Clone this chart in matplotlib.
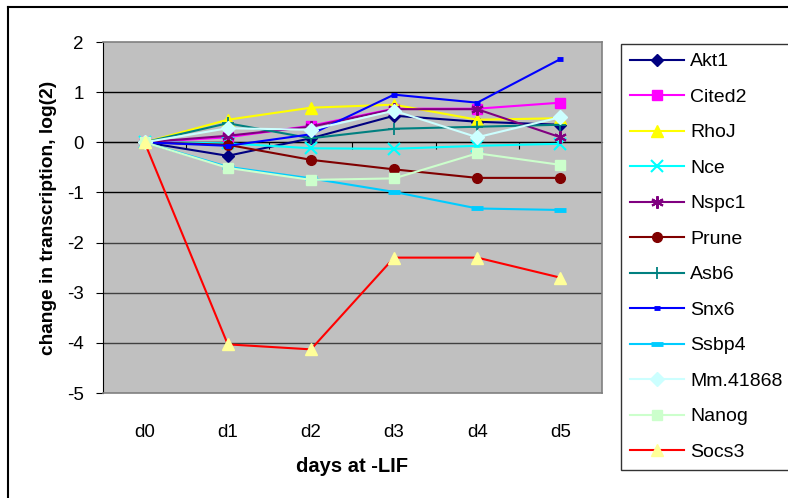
import numpy as np
import matplotlib
matplotlib.use("Agg")
import matplotlib.pyplot as plt
from matplotlib.lines import Line2D

plt.rcParams["font.family"] = ["Liberation Sans", "DejaVu Sans"]

days = ["d0", "d1", "d2", "d3", "d4", "d5"]

akt1 = [0, -0.27, 0.08, 0.53, 0.41, 0.35]
cited2 = [0, 0.10, 0.33, 0.67, 0.67, 0.79]
rhoj = [0, 0.45, 0.69, 0.75, 0.45, 0.48]
nce = [0, -0.02, -0.12, -0.13, -0.07, -0.03]
nspc1 = [0, 0.13, 0.31, 0.66, 0.66, 0.10]
prune = [0, -0.05, -0.35, -0.54, -0.71, -0.71]
asb6 = [0, 0.38, 0.08, 0.27, 0.31, 0.35]
snx6 = [0, -0.07, 0.16, 0.95, 0.79, 1.66]
ssbp4 = [0, -0.49, -0.72, -0.99, -1.32, -1.35]
mm41868 = [0, 0.28, 0.25, 0.63, 0.10, 0.50]
nanog = [0, -0.51, -0.75, -0.72, -0.22, -0.45]
socs3 = [0, -4.03, -4.13, -2.30, -2.30, -2.70]

# name, values, line colour, marker, marker colour, marker size, edge width
series = [
    ("Akt1", akt1, "#000080", "D", "#000080", 6, 1),
    ("Cited2", cited2, "#FF00FF", "s", "#FF00FF", 7, 1),
    ("RhoJ", rhoj, "#FFFF00", "^", "#FFFF00", 8, 1),
    ("Nce", nce, "#00FFFF", "x", "#00FFFF", 8, 1.5),
    ("Nspc1", nspc1, "#800080", (6, 2, 0), "#800080", 9, 1.5),
    ("Prune", prune, "#800000", "o", "#800000", 7, 1),
    ("Asb6", asb6, "#008080", "+", "#008080", 9, 1.3),
    ("Snx6", snx6, "#0000FF", "_", "#0000FF", 5, 3.5),
    ("Ssbp4", ssbp4, "#00CCFF", "_", "#00CCFF", 8, 3.5),
    ("Mm.41868", mm41868, "#CCFFFF", "D", "#CCFFFF", 7, 1),
    ("Nanog", nanog, "#CCFFCC", "s", "#CCFFCC", 7, 1),
    ("Socs3", socs3, "#FF0000", "^", "#FFFF99", 8, 1),
]

fig = plt.figure(figsize=(7.88, 4.98), dpi=100)
ax = fig.add_axes([103 / 788, 1 - 393 / 498, (602 - 103) / 788, (393 - 42) / 498])
ax.set_facecolor("#C0C0C0")

x = np.arange(len(days))
handles = []
for name, vals, lc, mk, mc, ms, mew in series:
    ax.plot(x, vals, color=lc, lw=1.5, marker=mk, ms=ms, mfc=mc, mec=mc, mew=mew, zorder=3)
    handles.append(Line2D([], [], color=lc, lw=1.5, marker=mk, ms=ms, mfc=mc, mec=mc, mew=mew, label=name))

ax.set_xlim(-0.5, 5.5)
ax.set_ylim(-5, 2)
ax.set_yticks(range(-5, 3))
ax.set_yticklabels([str(v) for v in range(-5, 3)], fontsize=13.5)
for v in range(-4, 2):
    ax.axhline(v, color="#000000" if v >= -1 else "#404040", lw=1, zorder=1)

ax.set_xticks(x)
ax.set_xticklabels(days, fontsize=13.5)
ax.tick_params(axis="x", length=0, pad=22)
ax.tick_params(axis="y", length=5, direction="out", color="#000000", pad=9)

for s in ["top", "right", "bottom"]:
    ax.spines[s].set_color("#808080")
    ax.spines[s].set_linewidth(1.2)
ax.spines["left"].set_color("#000000")

# category axis crossing at zero, with tick marks between categories
sec = ax.secondary_xaxis(5 / 7)
sec.set_xticks(np.arange(0.5, 5.0, 1.0))
sec.tick_params(axis="x", length=5, direction="out", labelbottom=False, labeltop=False,
                bottom=True, top=False, color="#000000")
sec.spines["bottom"].set_color("#000000")
sec.spines["bottom"].set_linewidth(1)

ax.set_ylabel("change in transcription, log(2)", fontsize=13.8, fontweight="bold", labelpad=7)
ax.set_xlabel("days at -LIF", fontsize=14.5, fontweight="bold", labelpad=12)

leg = fig.legend(handles=handles, loc="upper left", bbox_to_anchor=(621 / 788, 1 - 44 / 498),
                 fontsize=14, frameon=True, fancybox=False, edgecolor="#000000",
                 handlelength=2.8, labelspacing=0.92, borderpad=0.45, handletextpad=0.3,
                 borderaxespad=0)
leg.get_frame().set_linewidth(1)

# chart border
fig.add_artist(Line2D([8 / 788, 8 / 788], [0, 1 - 7 / 498], color="#000000", lw=1.5))
fig.add_artist(Line2D([8 / 788, 1], [1 - 7 / 498, 1 - 7 / 498], color="#000000", lw=1.5))

fig.savefig("out.png", dpi=100)
